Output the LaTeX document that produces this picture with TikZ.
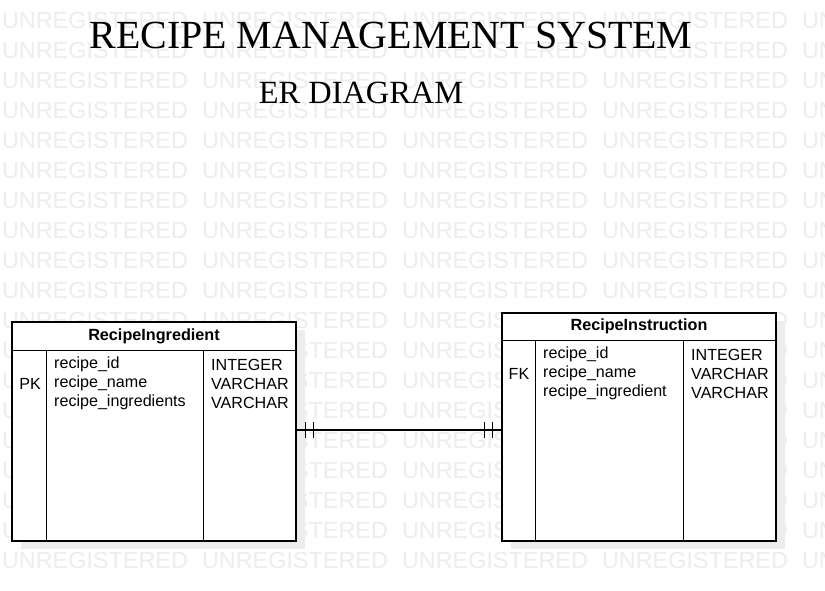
\documentclass[tikz,border=0pt]{standalone}
\usepackage{fontspec}
\setmainfont{Liberation Serif}
\newfontfamily\arialfont{Liberation Sans}
\usetikzlibrary{decorations.markings}

\tikzset{
  wmark/.style={text=black!7, inner sep=0, font=\arialfont\fontsize{23.4}{24}\selectfont},
  tbl/.style={draw, line width=1.1pt, fill=white, inner sep=0},
  shadowbox/.style={fill=black!7, draw=none, inner sep=0},
  thead/.style={inner sep=0, font=\arialfont\bfseries\fontsize{16.2}{18}\selectfont},
  tfield/.style={inner sep=0, align=left, font=\arialfont\fontsize{16.1}{19}\selectfont},
  onlyone/.style={postaction={decorate, decoration={markings,
    mark=at position 9pt with {\draw[line width=1.1pt] (0,-8pt) -- (0,8pt);},
    mark=at position 17pt with {\draw[line width=1.1pt] (0,-8pt) -- (0,8pt);},
    mark=at position -9pt with {\draw[line width=1.1pt] (0,-8pt) -- (0,8pt);},
    mark=at position -17pt with {\draw[line width=1.1pt] (0,-8pt) -- (0,8pt);}}}}
}

\begin{document}
\begin{tikzpicture}[x=1pt,y=-1pt]
  \useasboundingbox[fill=white] (0,0) rectangle (825,591);
  % watermark
  \foreach \r in {0,...,18}
    \foreach \c in {0,...,4}
      \node[wmark] (wm-\r-\c) at (95+200*\c, 20+30*\r) {UNREGISTERED};

  \node[font=\fontsize{39.9}{40}\selectfont, inner sep=0] (title) at (391,35.5) {RECIPE MANAGEMENT SYSTEM};
  \node[font=\fontsize{32.4}{34}\selectfont, inner sep=0] (subtitle) at (361,92.5) {ER DIAGRAM};

  % shadows
  \node[shadowbox, minimum width=284pt, minimum height=219pt] (ingrsh) at (163,439.5) {};
  \node[shadowbox, minimum width=274pt, minimum height=228pt] (instrsh) at (648,435) {};

  % RecipeIngredient
  \node[tbl, minimum width=284pt, minimum height=219pt] (ingr) at (154,431.5) {};
  \draw[line width=1.1pt] ([yshift=-29pt]ingr.north west) -- ([yshift=-29pt]ingr.north east);
  \draw[line width=1.1pt] ([xshift=35pt,yshift=-29pt]ingr.north west) -- ([xshift=35pt]ingr.south west);
  \draw[line width=1.1pt] ([xshift=192pt,yshift=-29pt]ingr.north west) -- ([xshift=192pt]ingr.south west);
  \node[thead] (ingrhead) at (154,336.5) {RecipeIngredient};
  \node[tfield] (ingrkey) at (30,383.5) {PK};
  \node[tfield, anchor=west] (ingrcols) at (54,383.5) {recipe\_id\\recipe\_name\\recipe\_ingredients};
  \node[tfield, anchor=west] (ingrtypes) at (211,383.5) {INTEGER\\VARCHAR\\VARCHAR};

  % RecipeInstruction
  \node[tbl, minimum width=274pt, minimum height=228pt] (instr) at (639,427) {};
  \draw[line width=1.1pt] ([yshift=-28pt]instr.north west) -- ([yshift=-28pt]instr.north east);
  \draw[line width=1.1pt] ([xshift=34pt,yshift=-28pt]instr.north west) -- ([xshift=34pt]instr.south west);
  \draw[line width=1.1pt] ([xshift=182pt,yshift=-28pt]instr.north west) -- ([xshift=182pt]instr.south west);
  \node[thead] (instrhead) at (639,326.5) {RecipeInstruction};
  \node[tfield] (instrkey) at (519,373.5) {FK};
  \node[tfield, anchor=west] (instrcols) at (543,373.5) {recipe\_id\\recipe\_name\\recipe\_ingredient};
  \node[tfield, anchor=west] (instrtypes) at (691,373.5) {INTEGER\\VARCHAR\\VARCHAR};

  % relation
  \coordinate (lnk) at (400,430);
  \draw[line width=1.1pt, onlyone] (ingr.east |- lnk) -- (instr.west |- lnk);
\end{tikzpicture}
\end{document}
